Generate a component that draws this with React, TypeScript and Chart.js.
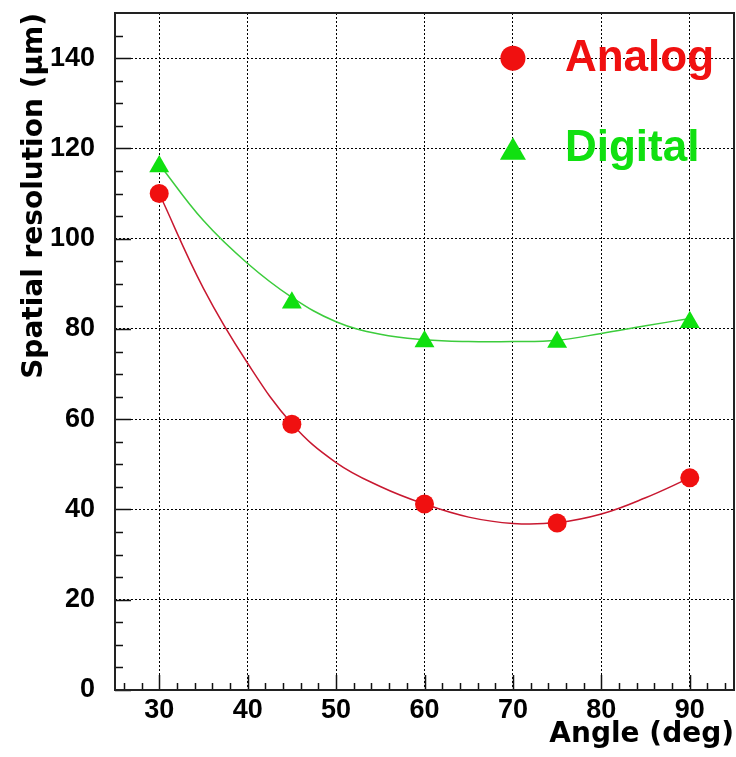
import React, { useEffect, useRef } from 'react';
import { Chart, registerables } from 'chart.js';

Chart.register(...registerables);

// Measured points
const angles = [30, 45, 60, 75, 90];
const analogValues = [110, 58.9, 41.2, 37.0, 47.0];
const digitalValues = [116, 85.8, 77.2, 77.1, 81.5];

// Fitted curves
const fitAngles = [30, 35, 40, 45, 50, 55, 60, 65, 70, 75, 80, 85, 90];
const analogFit = [110, 89, 72.4, 59, 50.4, 45.1, 41.2, 38.3, 36.9, 37.1, 39.0, 42.6, 47.0];
const digitalFit = [116.5, 104, 94.5, 87, 81.6, 78.8, 77.6, 77.2, 77.2, 77.5, 79.0, 80.7, 82.3];

// Axes
const xTickValues = [30, 40, 50, 60, 70, 80, 90];
const yTickValues = [0, 20, 40, 60, 80, 100, 120, 140];
const xMinorValues = [26, 28, 32, 34, 36, 38, 42, 44, 46, 48, 52, 54, 56, 58, 62, 64, 66, 68, 72, 74, 76, 78, 82, 84, 86, 88, 92, 94];
const yMinorValues = [5, 10, 15, 25, 30, 35, 45, 50, 55, 65, 70, 75, 85, 90, 95, 105, 110, 115, 125, 130, 135, 145];

const legendLabels = ['Analog', 'Digital'];

const RED = '#f01010';
const GREEN = '#10e010';
const RED_LINE = '#c81830';
const GREEN_LINE = '#3ccc3c';

function drawTriangle(ctx: CanvasRenderingContext2D, cx: number, cy: number, r: number) {
  const w = r * Math.sqrt(3) / 2;
  ctx.beginPath();
  ctx.moveTo(cx, cy - r);
  ctx.lineTo(cx + w, cy + r / 2);
  ctx.lineTo(cx - w, cy + r / 2);
  ctx.closePath();
  ctx.fill();
}

const framePlugin = {
  id: 'rootFrame',
  beforeDatasetsDraw(chart: any) {
    const { ctx, chartArea: a, scales } = chart;
    const x = scales.x;
    const y = scales.y;
    ctx.save();
    ctx.strokeStyle = '#111';
    ctx.lineWidth = 1.5;
    ctx.beginPath();
    for (const v of xMinorValues) {
      const px = Math.round(x.getPixelForValue(v)) + 0.5;
      ctx.moveTo(px, a.bottom);
      ctx.lineTo(px, a.bottom - 7);
    }
    for (const v of xTickValues) {
      const px = Math.round(x.getPixelForValue(v)) + 0.5;
      ctx.moveTo(px, a.bottom);
      ctx.lineTo(px, a.bottom - 15);
    }
    for (const v of yMinorValues) {
      const py = Math.round(y.getPixelForValue(v)) + 0.5;
      ctx.moveTo(a.left, py);
      ctx.lineTo(a.left + 8, py);
    }
    for (const v of yTickValues) {
      const py = Math.round(y.getPixelForValue(v)) + 0.5;
      ctx.moveTo(a.left, py);
      ctx.lineTo(a.left + 16, py);
    }
    ctx.stroke();
    ctx.lineWidth = 2;
    ctx.strokeStyle = '#222';
    ctx.strokeRect(a.left, a.top, a.right - a.left, a.bottom - a.top);
    ctx.restore();
  },
  afterDatasetsDraw(chart: any) {
    const { ctx, scales } = chart;
    const x = scales.x;
    const y = scales.y;
    const mx = x.getPixelForValue(70);
    const rows = [140, 119.8];
    ctx.save();
    ctx.font = 'bold 44px "Liberation Sans", Arial, sans-serif';
    ctx.textBaseline = 'middle';
    ctx.textAlign = 'left';
    // Analog
    const y1 = y.getPixelForValue(rows[0]);
    ctx.fillStyle = RED;
    ctx.beginPath();
    ctx.arc(mx, y1, 12.5, 0, Math.PI * 2);
    ctx.fill();
    ctx.fillText(legendLabels[0], mx + 52, y1 + 1);
    // Digital
    const y2 = y.getPixelForValue(rows[1]);
    ctx.fillStyle = GREEN;
    drawTriangle(ctx, mx, y2 + 3, 15);
    ctx.fillText(legendLabels[1], mx + 52, y2);
    ctx.restore();
  },
};

function zeroPad(s: any) {
  s.paddingTop = 0;
  s.paddingBottom = 0;
  s.paddingLeft = 0;
  s.paddingRight = 0;
}

export default function App() {
  const ref = useRef<HTMLCanvasElement | null>(null);

  useEffect(() => {
    if (!ref.current) return;
    const tickFont = { family: '"Liberation Sans", Arial, sans-serif', size: 27, weight: 'bold' as const };
    const titleFont = { family: '"DejaVu Sans", sans-serif', size: 28, weight: 'bold' as const };
    const chart = new Chart(ref.current, {
      type: 'scatter',
      data: {
        datasets: [
          {
            label: 'Analog',
            data: angles.map((a, i) => ({ x: a, y: analogValues[i] })),
            pointStyle: 'circle',
            pointRadius: 9.5,
            pointBackgroundColor: RED,
            pointBorderWidth: 0,
            showLine: false,
          },
          {
            label: 'Digital',
            data: angles.map((a, i) => ({ x: a, y: digitalValues[i] })),
            pointStyle: 'triangle',
            pointRadius: 11.5,
            pointBackgroundColor: GREEN,
            pointBorderWidth: 0,
            showLine: false,
          },
          {
            label: 'Analog fit',
            data: fitAngles.map((a, i) => ({ x: a, y: analogFit[i] })),
            showLine: true,
            borderColor: RED_LINE,
            borderWidth: 1.5,
            pointRadius: 0,
            tension: 0.4,
          } as any,
          {
            label: 'Digital fit',
            data: fitAngles.map((a, i) => ({ x: a, y: digitalFit[i] })),
            showLine: true,
            borderColor: GREEN_LINE,
            borderWidth: 1.5,
            pointRadius: 0,
            tension: 0.4,
          } as any,
        ],
      },
      options: {
        responsive: false,
        animation: false,
        maintainAspectRatio: false,
        layout: { autoPadding: false, padding: { top: 13, right: 2, left: 0, bottom: 0 } },
        plugins: {
          legend: { display: false },
          tooltip: { enabled: false },
        },
        scales: {
          x: {
            type: 'linear',
            min: 25,
            max: 95,
            afterBuildTicks: (s: any) => {
              s.ticks = xTickValues.map((v) => ({ value: v }));
            },
            afterFit: (s: any) => {
              s.height = 67;
              zeroPad(s);
            },
            grid: { color: '#000', lineWidth: 1, drawTicks: false },
            border: { display: false, dash: [2, 2] },
            ticks: { color: '#000', font: tickFont, padding: 4, maxRotation: 0, autoSkip: false },
            title: {
              display: true,
              text: 'Angle (deg)',
              align: 'end',
              color: '#000',
              font: titleFont,
              padding: { top: 0, bottom: 5 },
            },
          },
          y: {
            type: 'linear',
            min: 0,
            max: 150,
            afterBuildTicks: (s: any) => {
              s.ticks = yTickValues.map((v) => ({ value: v }));
            },
            afterFit: (s: any) => {
              s.width = 115;
              zeroPad(s);
            },
            grid: { color: '#000', lineWidth: 1, drawTicks: false },
            border: { display: false, dash: [2, 2] },
            ticks: { color: '#000', font: tickFont, padding: 20, autoSkip: false },
            title: {
              display: true,
              text: 'Spatial resolution (\u00b5m)',
              align: 'end',
              color: '#000',
              font: titleFont,
              padding: { top: 18, bottom: 0 },
            },
          },
        },
      } as any,
      plugins: [framePlugin],
    });
    return () => chart.destroy();
  }, []);

  return (
    <div style={{ position: 'fixed', left: 0, top: 0, width: 736, height: 757, background: '#fff' }}>
      <canvas ref={ref} width={736} height={757} style={{ display: 'block', width: 736, height: 757 }} />
    </div>
  );
}
